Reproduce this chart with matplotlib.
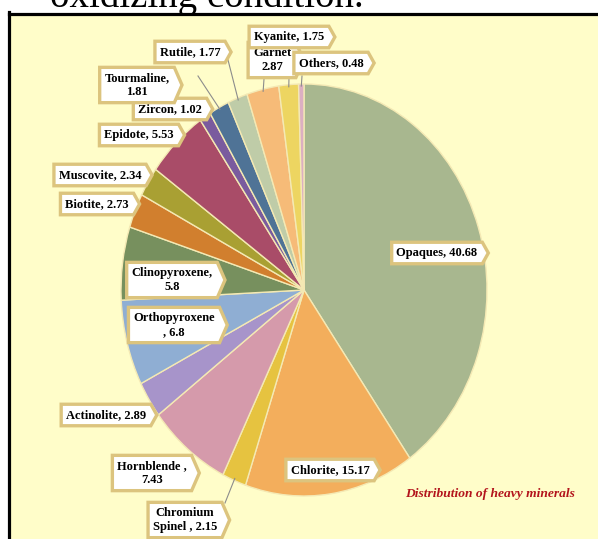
import numpy as np
import matplotlib
matplotlib.use("Agg")
import matplotlib.pyplot as plt
from matplotlib.patches import Rectangle
from matplotlib.path import Path

# heavy mineral percentages, clockwise from 12 o'clock
minerals = ["Opaques", "Chlorite", "Chromium Spinel", "Hornblende", "Actinolite",
            "Orthopyroxene", "Clinopyroxene", "Biotite", "Muscovite", "Epidote",
            "Zircon", "Tourmaline", "Rutile", "Garnet", "Kyanite", "Others"]
percent = [40.68, 15.17, 2.15, 7.43, 2.89, 6.8, 5.8, 2.73, 2.34, 5.53,
           1.02, 1.81, 1.77, 2.87, 1.75, 0.48]
label_fmt = ["{n}, {v}", "{n}, {v}", "Chromium\nSpinel , {v}", "{n} ,\n{v}",
             "{n}, {v}", "{n}\n, {v}", "{n},\n{v}", "{n}, {v}", "{n}, {v}",
             "{n}, {v}", "{n}, {v}", "{n},\n{v}", "{n}, {v}", "{n}\n{v}",
             "{n}, {v}", "{n}, {v}"]
colors = ["#A8B78F", "#F3AE5C", "#E6C340", "#D59AAB", "#A794CA", "#8FAED3",
          "#77905E", "#D17F2E", "#A9A033", "#A94C68", "#7A5B9E", "#4F7396",
          "#BFCCA8", "#F6BB78", "#EDD561", "#DCAFC2"]

W, H = 598, 539
CX, CY, RX, RY = 304, 290, 183, 206   # pie centre / radii in pixels

# label centres in pixels (from top-left)
label_pos = [(437, 253), (330, 470), (185, 520), (152, 473), (106, 415),
             (174, 325), (172, 280), (97, 204), (100, 175), (139, 135),
             (170, 109), (137, 85), (190, 52), (272, 60), (289, 37), (331, 63)]
# leader line starts for the labels that sit outside their slice
leaders = {"Chromium Spinel": (225, 503), "Tourmaline": (198, 76),
           "Rutile": (227, 56), "Garnet": (264, 79), "Kyanite": (289, 77),
           "Others": (302, 76)}
# stacking of overlapping boxes
box_z = {"Zircon": 5, "Garnet": 5.5, "Others": 6, "Kyanite": 7}


def px(x, y):
    return (x - CX) / RX, (CY - y) / RY


def tag_box(x0, y0, width, height, mutation_size):
    pad = 0.38 * mutation_size
    x0, y0 = x0 - pad, y0 - pad
    width, height = width + 2 * pad, height + 2 * pad
    d = 0.28 * min(height, 2.2 * mutation_size)
    verts = [(x0, y0), (x0 + width, y0), (x0 + width + d, y0 + height / 2),
             (x0 + width, y0 + height), (x0, y0 + height), (x0, y0)]
    codes = [Path.MOVETO] + [Path.LINETO] * 4 + [Path.CLOSEPOLY]
    return Path(verts, codes)


plt.rcParams["font.family"] = ["Liberation Serif", "DejaVu Serif"]
fig = plt.figure(figsize=(W / 100, H / 100), dpi=100)
fig.patch.set_facecolor("white")

# panel background with black left/top frame
top = 1 - 13.5 / H
left = 8.5 / W
fig.patches.append(Rectangle((left, 0), 1 - left, top, transform=fig.transFigure,
                             facecolor="#FFFDC9", edgecolor="none", zorder=-2))
fig.add_artist(plt.Line2D([left, left], [0, top + 1.5 / H], color="black",
                          lw=2.3, transform=fig.transFigure, zorder=-1))
fig.add_artist(plt.Line2D([left, 1], [top, top], color="black",
                          lw=2.3, transform=fig.transFigure, zorder=-1))
fig.text(50 / W, 1 - 7 / H, "oxidizing condition.", fontsize=28,
         va="baseline", ha="left", color="black")

ax = fig.add_axes([0, 0, 1, 1])
ax.patch.set_visible(False)
ax.pie(percent, colors=colors, startangle=90, counterclock=False,
       wedgeprops=dict(edgecolor="#F4E9B4", linewidth=1.0))
ax.set_aspect("auto")
ax.set_xlim(-CX / RX, (W - CX) / RX)
ax.set_ylim((CY - H) / RY, CY / RY)
ax.axis("off")

total = sum(percent)
cum = np.cumsum([0] + percent)
for i, (name, v) in enumerate(zip(minerals, percent)):
    mid = np.deg2rad(90 - (cum[i] + v / 2) / total * 360)
    start = leaders.get(name)
    if start is not None:
        sx, sy = px(*start)
        ax.plot([sx, np.cos(mid) * 0.99], [sy, np.sin(mid) * 0.99],
                color="#8C8C8C", lw=0.8, zorder=3)
    txt = label_fmt[i].format(n=name, v=f"{v:g}")
    ax.text(*px(*label_pos[i]), txt, ha="center", va="center",
            multialignment="center", fontsize=9, fontweight="bold",
            color="black", zorder=box_z.get(name, 6),
            bbox=dict(boxstyle=tag_box, facecolor="white",
                      edgecolor="#DCC47E", linewidth=2.4))

ax.text(*px(490, 494), "Distribution of heavy minerals", ha="center",
        va="center", fontsize=9.7, fontweight="bold", style="italic",
        color="#B3141C")

fig.savefig("out.png", dpi=100)
